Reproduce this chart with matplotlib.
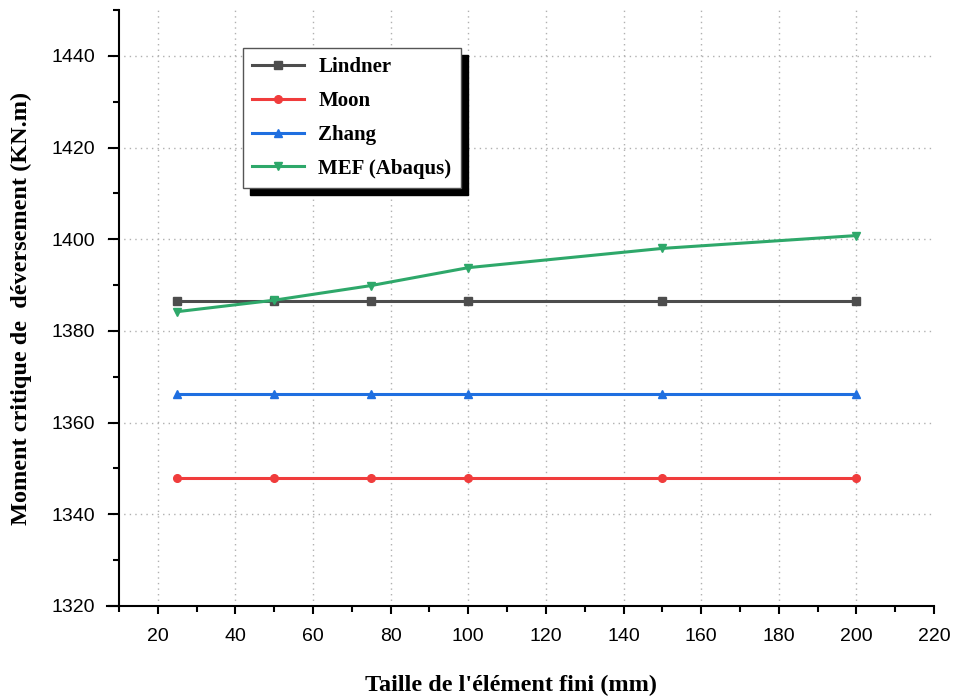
import matplotlib
matplotlib.use("Agg")
import matplotlib.pyplot as plt
from matplotlib.ticker import MultipleLocator

# Data
taille = [25, 50, 75, 100, 150, 200]
lindner = [1386.6, 1386.6, 1386.6, 1386.6, 1386.6, 1386.6]
moon = [1347.9, 1347.9, 1347.9, 1347.9, 1347.9, 1347.9]
zhang = [1366.2, 1366.2, 1366.2, 1366.2, 1366.2, 1366.2]
mef = [1384.2, 1386.7, 1389.9, 1393.8, 1398.0, 1400.8]

series = [
    ("Lindner", lindner, "#4d4d4d", "s"),
    ("Moon", moon, "#f03c3c", "o"),
    ("Zhang", zhang, "#1f6fe0", "^"),
    ("MEF (Abaqus)", mef, "#2ea86a", "v"),
]

serif = ["Liberation Serif", "DejaVu Serif"]
sans = ["Liberation Sans", "DejaVu Sans"]

fig = plt.figure(figsize=(9.54, 7.0), dpi=100)
ax = fig.add_axes([107 / 954, 1 - 606 / 700, (934 - 107) / 954, (606 - 10) / 700])

for name, vals, col, mk in series:
    ax.plot(taille, vals, color=col, marker=mk, markersize=5.5, linewidth=2.2, label=name)

ax.set_xlim(6.9, 220)
ax.set_ylim(1320, 1450)
ax.spines["left"].set_position(("data", 10))
ax.spines["right"].set_visible(False)
ax.spines["top"].set_visible(False)
ax.spines["left"].set_linewidth(1.5)
ax.spines["bottom"].set_linewidth(1.5)

ax.set_xticks([20, 40, 60, 80, 100, 120, 140, 160, 180, 200, 220])
ax.xaxis.set_minor_locator(MultipleLocator(10))
ax.yaxis.set_major_locator(MultipleLocator(20))
ax.yaxis.set_minor_locator(MultipleLocator(10))
ax.tick_params(axis="x", which="major", direction="out", length=5.5, width=1.5,
               labelsize=14, pad=10)
ax.tick_params(axis="x", which="minor", direction="out", length=4.5, width=1.5)
ax.tick_params(axis="y", which="major", direction="out", length=8, width=1.5,
               labelsize=14, pad=9)
ax.tick_params(axis="y", which="minor", direction="out", length=4, width=1.5)
for lab in ax.get_xticklabels() + ax.get_yticklabels():
    lab.set_fontfamily(sans)

# dotted grid at the major ticks
for x in range(20, 201, 20):
    ax.axvline(x, color="#b0b0b0", linestyle=(0, (1, 3)), linewidth=1, zorder=0)
for y in range(1340, 1441, 20):
    ax.axhline(y, color="#b0b0b0", linestyle=(0, (1, 3)), linewidth=1, zorder=0)

ax.set_xlabel("Taille de l'élément fini (mm)", fontsize=17.5, family=serif, weight="bold")
ax.xaxis.set_label_coords((511 - 107) / 827, -(675 - 606) / 596)
ax.set_ylabel("Moment critique de  déversement (KN.m)", fontsize=17.5, family=serif, weight="bold")
ax.yaxis.set_label_coords(-(107 - 32) / 827, 0.5)

leg = ax.legend(loc="upper left", bbox_to_anchor=((243 - 107) / 827, (606 - 48) / 596),
                fancybox=False,
                shadow={"color": "black", "alpha": 1, "ox": 5, "oy": -5},
                prop={"family": serif, "weight": "bold", "size": 15},
                handlelength=2.5, labelspacing=0.66, borderpad=0.45, handletextpad=0.67,
                borderaxespad=0, framealpha=1)
leg.get_frame().set_edgecolor("#555555")
leg.get_frame().set_linewidth(1)

fig.savefig("out.png", dpi=100)
